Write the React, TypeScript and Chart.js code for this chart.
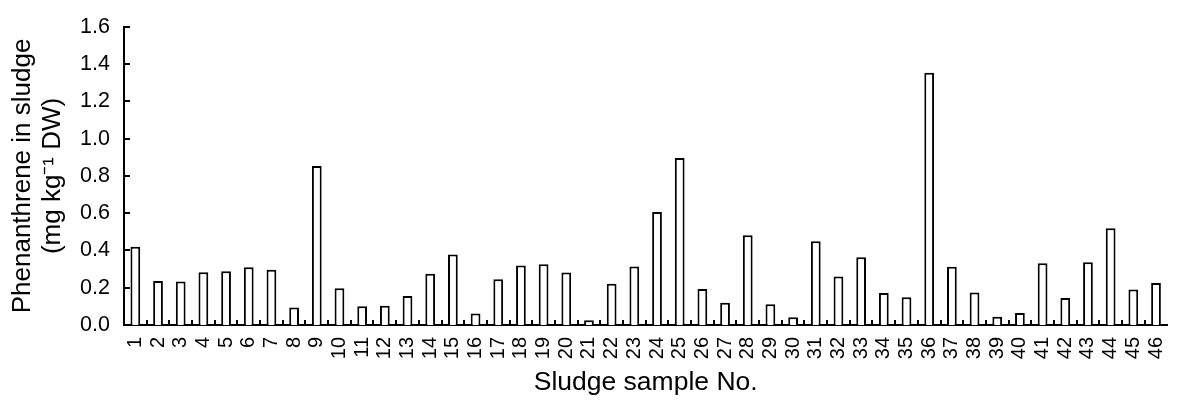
import React, { useEffect, useRef } from "react";
import { Chart, registerables } from "chart.js";

Chart.register(...registerables);

const sampleNumbers: string[] = Array.from({ length: 46 }, (_, i) => String(i + 1));

const phenanthrene: number[] = [
  0.42, 0.236, 0.234, 0.283, 0.289, 0.31, 0.296, 0.094, 0.854, 0.197,
  0.101, 0.103, 0.156, 0.275, 0.379, 0.062, 0.246, 0.32, 0.326, 0.282,
  0.025, 0.222, 0.314, 0.606, 0.897, 0.193, 0.119, 0.482, 0.112, 0.042,
  0.45, 0.26, 0.363, 0.172, 0.149, 1.354, 0.312, 0.175, 0.044, 0.065,
  0.331, 0.145, 0.337, 0.519, 0.191, 0.225,
];

const yTitleLines: string[] = ["Phenanthrene in sludge", "(mg kg\u207B\u00B9 DW)"];
const xTitle = "Sludge sample No.";

const FONT = "'Liberation Sans', Arial, Helvetica, sans-serif";

const innerTicks = {
  id: "innerTicks",
  afterDatasetsDraw(chart: any) {
    const { ctx, chartArea, scales } = chart;
    const x = scales.x;
    const y = scales.y;
    ctx.save();
    ctx.strokeStyle = "#000";
    ctx.lineWidth = 2;
    ctx.beginPath();
    y.ticks.forEach((_t: any, i: number) => {
      const py = Math.round(y.getPixelForTick(i));
      ctx.moveTo(chartArea.left, py);
      ctx.lineTo(chartArea.left + 6, py);
    });
    for (let i = 1; i < sampleNumbers.length; i++) {
      const px = Math.round((x.getPixelForValue(i - 1) + x.getPixelForValue(i)) / 2);
      ctx.moveTo(px, chartArea.bottom);
      ctx.lineTo(px, chartArea.bottom - 5);
    }
    ctx.stroke();
    ctx.restore();
  },
};

export default function App() {
  const canvasRef = useRef<HTMLCanvasElement | null>(null);

  useEffect(() => {
    document.documentElement.style.overflow = "hidden";
    document.body.style.overflow = "hidden";
    const canvas = canvasRef.current;
    if (!canvas) return;
    const chart = new Chart(canvas, {
      type: "bar",
      data: {
        labels: sampleNumbers,
        datasets: [
          {
            data: phenanthrene,
            backgroundColor: "#ffffff",
            borderColor: "#000000",
            borderWidth: 2,
            categoryPercentage: 1,
            barPercentage: 0.43,
          },
        ],
      },
      options: {
        animation: false,
        responsive: false,
        devicePixelRatio: 1,
        layout: { padding: { top: 24, left: 0, right: 0, bottom: 0 } },
        plugins: {
          legend: { display: false },
          tooltip: { enabled: false },
          title: { display: false },
        },
        scales: {
          x: {
            grid: { display: false, drawTicks: false },
            border: { display: true, color: "#000", width: 2 },
            ticks: {
              autoSkip: false,
              maxRotation: 90,
              minRotation: 90,
              padding: 12,
              color: "#000",
              font: { family: FONT, size: 20 },
            },
            title: {
              display: true,
              text: xTitle,
              color: "#000",
              font: { family: FONT, size: 26.5 },
              padding: { top: 0, bottom: 2 },
            },
            afterFit: (scale: any) => {
              scale.height = 76;
            },
          },
          y: {
            min: 0,
            max: 1.6,
            grid: { display: false, drawTicks: false },
            border: { display: true, color: "#000", width: 2 },
            ticks: {
              stepSize: 0.2,
              padding: 14,
              color: "#000",
              font: { family: FONT, size: 21.5 },
              callback: (v: any) => Number(v).toFixed(1),
            },
            title: {
              display: true,
              text: yTitleLines,
              color: "#000",
              font: { family: FONT, size: 26, lineHeight: 1.15 },
              padding: { top: 8, bottom: 0 },
            },
            afterFit: (scale: any) => {
              scale.width = 124;
            },
          },
        },
      },
      plugins: [innerTicks],
    });
    return () => chart.destroy();
  }, []);

  return (
    <div style={{ position: "fixed", left: 0, top: 0, width: 1192, height: 401, background: "#fff" }}>
      <canvas ref={canvasRef} width={1192} height={401} style={{ display: "block" }} />
    </div>
  );
}
